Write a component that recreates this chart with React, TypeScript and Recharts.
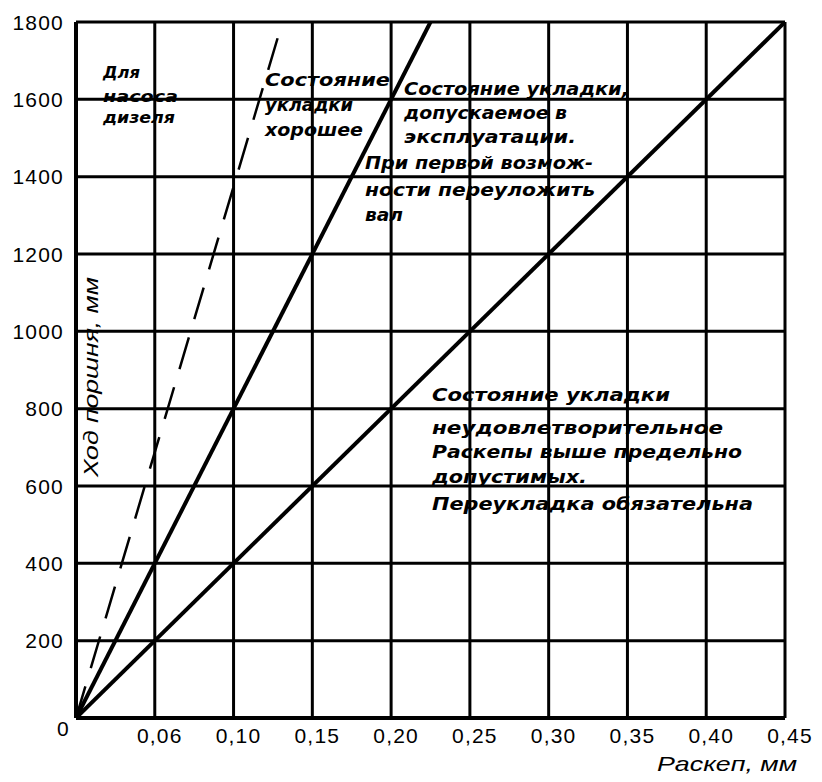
import React from 'react';
import { LineChart, Line, XAxis, YAxis, CartesianGrid, Customized } from 'recharts';

// X axis: раскеп, мм
const xTicks = [0, 0.05, 0.1, 0.15, 0.2, 0.25, 0.3, 0.35, 0.4, 0.45];
const xTickLabels = ['', '0,06', '0,10', '0,15', '0,20', '0,25', '0,30', '0,35', '0,40', '0,45'];
// Y axis: ход поршня, мм
const yTicks = [0, 200, 400, 600, 800, 1000, 1200, 1400, 1600, 1800];

// Boundary lines (x = раскеп, y = ход поршня)
const limitLine = [
  { x: 0, y: 0 },
  { x: 0.45, y: 1800 },
];
const goodLine = [
  { x: 0, y: 0 },
  { x: 0.225, y: 1800 },
];
const dieselLine = [
  { x: 0, y: 0 },
  { x: 0.131, y: 1800 },
];

const dieselText = ['Для', 'насоса', 'дизеля'];
const goodText = ['Состояние', 'укладки', 'хорошее'];
const allowedTextA = ['Состояние укладки,', 'допускаемое в', 'эксплуатации.'];
const allowedTextB = ['При первой возмож-', 'ности переуложить', 'вал'];
const badText = [
  'Состояние укладки',
  'неудовлетворительное',
  'Раскепы выше предельно',
  'допустимых.',
  'Переукладка обязательна',
];

const xTitle = 'Раскеп, мм';
const yTitle = 'Ход поршня, мм';

const TICK_FONT = '"Liberation Sans", Arial, sans-serif';
const NOTE_FONT = '"DejaVu Sans", "Liberation Sans", sans-serif';

const YTick = (props: any) => {
  const { x, y, payload } = props;
  const zero = payload.value === 0;
  return (
    <text
      x={x + (zero ? 6 : 0)}
      y={y + (zero ? 10 : 0)}
      dy="0.36em"
      textAnchor="end"
      fontFamily={TICK_FONT}
      fontSize={21}
      letterSpacing={1.2}
      fill="#000"
    >
      {payload.value}
    </text>
  );
};

const XTick = (props: any) => {
  const { x, y, payload, index } = props;
  const label = xTickLabels[index] ?? '';
  return (
    <text
      x={x + 5}
      y={y}
      dy="0.71em"
      textAnchor="middle"
      fontFamily={TICK_FONT}
      fontSize={21}
      letterSpacing={1.2}
      fill="#000"
    >
      {label}
    </text>
  );
};

type Block = { lines: string[]; x: number; ys: number[]; widths: number[]; size: number };

const blocks: Block[] = [
  { lines: dieselText, x: 103, ys: [78, 102, 123], widths: [37, 75, 72], size: 16 },
  { lines: goodText, x: 265, ys: [86, 111, 136], widths: [125, 88, 98], size: 17 },
  { lines: allowedTextA, x: 404, ys: [95, 119, 143], widths: [225, 163, 172], size: 17 },
  { lines: allowedTextB, x: 365, ys: [169, 196, 221], widths: [228, 230, 38], size: 17 },
  { lines: badText, x: 432, ys: [401, 434, 458, 483, 510], widths: [238, 291, 310, 155, 321], size: 17 },
];

const Notes = () => (
  <g>
    {blocks.map((b, bi) =>
      b.lines.map((line, li) => (
        <text
          key={`${bi}-${li}`}
          x={b.x}
          y={b.ys[li]}
          fontFamily={NOTE_FONT}
          fontStyle="italic"
          fontWeight="bold"
          fontSize={b.size}
          textLength={b.widths[li]}
          lengthAdjust="spacingAndGlyphs"
          fill="#000"
        >
          {line}
        </text>
      ))
    )}
    <text
      x={657}
      y={771}
      fontFamily={TICK_FONT}
      fontStyle="italic"
      fontSize={21}
      textLength={140}
      lengthAdjust="spacingAndGlyphs"
      fill="#000"
    >
      {xTitle}
    </text>
    <text
      transform="translate(98 377) rotate(-90)"
      x={0}
      y={0}
      textAnchor="middle"
      fontFamily={TICK_FONT}
      fontStyle="italic"
      fontSize={21}
      textLength={200}
      lengthAdjust="spacingAndGlyphs"
      fill="#000"
    >
      {yTitle}
    </text>
  </g>
);

export default function App() {
  return (
    <div style={{ position: 'absolute', left: 0, top: 0, width: 822, height: 782, background: '#fff' }}>
      <LineChart width={822} height={782} margin={{ top: 22, right: 37, left: 0, bottom: 0 }}>
        <CartesianGrid stroke="#000" strokeWidth={3} horizontalValues={yTicks} verticalValues={xTicks} />
        <XAxis
          dataKey="x"
          type="number"
          domain={[0, 0.45]}
          ticks={xTicks}
          interval={0}
          height={64}
          tickSize={0}
          tickMargin={10}
          axisLine={{ stroke: '#000', strokeWidth: 4 }}
          tickLine={false}
          tick={<XTick />}
          allowDataOverflow
        />
        <YAxis
          dataKey="y"
          type="number"
          domain={[0, 1800]}
          ticks={yTicks}
          interval={0}
          width={76}
          tickSize={0}
          tickMargin={12}
          axisLine={{ stroke: '#000', strokeWidth: 4 }}
          tickLine={false}
          tick={<YTick />}
          allowDataOverflow
        />
        <Line data={limitLine} dataKey="y" stroke="#000" strokeWidth={4} dot={false} isAnimationActive={false} />
        <Line data={goodLine} dataKey="y" stroke="#000" strokeWidth={4} dot={false} isAnimationActive={false} />
        <Line
          data={dieselLine}
          dataKey="y"
          stroke="#000"
          strokeWidth={2.5}
          strokeDasharray="33 19"
          dot={false}
          isAnimationActive={false}
        />
        <Customized component={Notes} />
      </LineChart>
    </div>
  );
}
